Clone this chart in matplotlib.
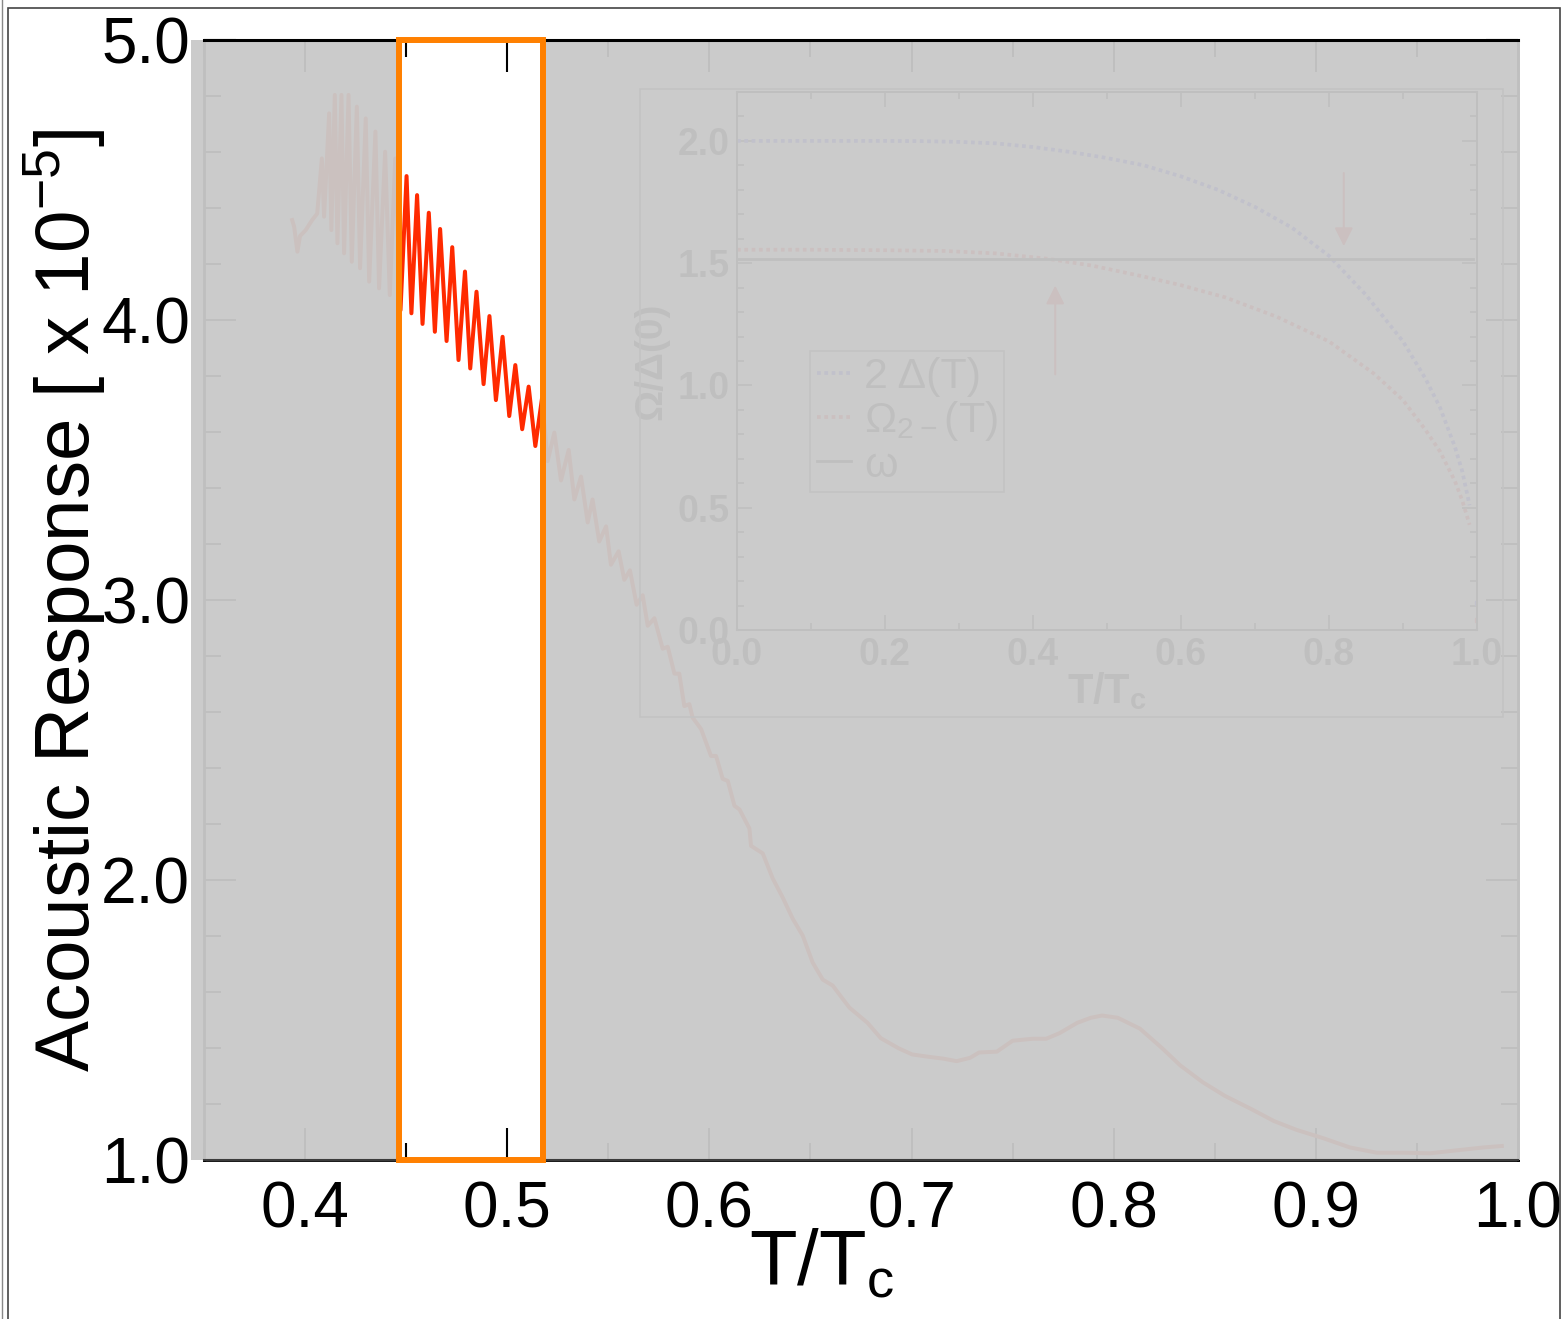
import numpy as np
import matplotlib.pyplot as plt
from matplotlib.patches import Rectangle
from matplotlib.lines import Line2D

plt.rcParams['font.family'] = ['Liberation Sans', 'DejaVu Sans']

# acoustic response (x 1e-5) vs reduced temperature
t_meas = [0.3936, 0.3946, 0.3962, 0.3975, 0.4003, 0.4035, 0.4060,
          0.4083, 0.4094, 0.4119, 0.4130, 0.4147, 0.4160, 0.4180, 0.4193,
          0.4215, 0.4231, 0.4256, 0.4272, 0.4300, 0.4317, 0.4348, 0.4366,
          0.4396, 0.4419, 0.4446, 0.4472,
          0.4502, 0.4526, 0.4554, 0.4581, 0.4612, 0.4642, 0.4668, 0.4700,
          0.4728, 0.4759, 0.4791, 0.4817, 0.4848, 0.4883, 0.4912, 0.4944,
          0.4977, 0.5010, 0.5040, 0.5074, 0.5106, 0.5139, 0.5172,
          0.5200, 0.5233, 0.5266, 0.5304, 0.5332, 0.5365, 0.5398, 0.5422,
          0.5455, 0.5489, 0.5513, 0.5551, 0.5579, 0.5607, 0.5640, 0.5670,
          0.5695, 0.5728, 0.5769, 0.5794, 0.5827, 0.5851, 0.5876, 0.5901,
          0.5917, 0.5959, 0.6008, 0.6033, 0.6066, 0.6091, 0.6124, 0.6149,
          0.6198, 0.6206, 0.6264, 0.6313, 0.6363, 0.6412, 0.6462, 0.6511,
          0.6561, 0.6610, 0.6660, 0.6693, 0.6782, 0.6848, 0.6936, 0.7003,
          0.7080, 0.7157, 0.7223, 0.7290, 0.7334, 0.7422, 0.7500, 0.7599,
          0.7666, 0.7732, 0.7820, 0.7887, 0.7942, 0.8020, 0.8130, 0.8240,
          0.8329, 0.8440, 0.8550, 0.8683, 0.8793, 0.8903, 0.9036, 0.9168,
          0.9301, 0.9434, 0.9566, 0.9677, 0.9831, 0.9920]
resp = [4.357, 4.333, 4.244, 4.300, 4.321, 4.357, 4.380,
        4.577, 4.369, 4.738, 4.321, 4.804, 4.274, 4.804, 4.238,
        4.804, 4.208, 4.762, 4.185, 4.720, 4.137, 4.673, 4.113,
        4.601, 4.089, 4.577, 4.035,
        4.514, 4.024, 4.446, 3.986, 4.383, 3.958, 4.325, 3.925,
        4.260, 3.857, 4.173, 3.827, 4.101, 3.771, 4.014, 3.714,
        3.940, 3.657, 3.839, 3.610, 3.762, 3.550, 3.720,
        3.496, 3.598, 3.427, 3.536, 3.359, 3.441, 3.277, 3.359,
        3.209, 3.263, 3.126, 3.174, 3.072, 3.106, 2.983, 3.017,
        2.908, 2.935, 2.826, 2.833, 2.737, 2.737, 2.621, 2.628,
        2.580, 2.539, 2.443, 2.443, 2.361, 2.354, 2.265, 2.252,
        2.184, 2.122, 2.095, 2.006, 1.937, 1.862, 1.801, 1.705,
        1.644, 1.623, 1.575, 1.544, 1.490, 1.435, 1.399, 1.377,
        1.369, 1.362, 1.353, 1.365, 1.384, 1.387, 1.426, 1.433,
        1.433, 1.453, 1.490, 1.508, 1.516, 1.508, 1.469, 1.399,
        1.338, 1.278, 1.229, 1.181, 1.139, 1.108, 1.078, 1.045,
        1.026, 1.026, 1.024, 1.033, 1.045, 1.050]

xticks = [0.4, 0.5, 0.6, 0.7, 0.8, 0.9, 1.0]
xticklabels = ['0.4', '0.5', '0.6', '0.7', '0.8', '0.9', '1.0']
yticks = [1, 2, 3, 4, 5]
yticklabels = ['1.0', '2.0', '3.0', '4.0', '5.0']

# inset: 2*gap and the collective mode, both over Delta(0)
t_gap = [0.0, 0.1, 0.2, 0.25, 0.3, 0.35, 0.4, 0.45, 0.5, 0.55, 0.6, 0.65,
         0.7, 0.75, 0.8, 0.85, 0.9, 0.93, 0.95, 0.97, 0.98, 0.99]
gap2 = [2.0, 2.0, 2.0, 1.999, 1.996, 1.99, 1.975, 1.955, 1.93, 1.90, 1.855,
        1.80, 1.73, 1.645, 1.53, 1.37, 1.18, 1.03, 0.91, 0.75, 0.65, 0.51]
t_mode = [0.0, 0.1, 0.2, 0.28, 0.35, 0.42, 0.48, 0.55, 0.6, 0.66, 0.73,
          0.8, 0.86, 0.9, 0.93, 0.95, 0.97, 0.98, 0.99]
omega2m = [1.555, 1.555, 1.553, 1.55, 1.54, 1.518, 1.49, 1.445, 1.41, 1.36,
           1.28, 1.18, 1.05, 0.94, 0.82, 0.73, 0.61, 0.53, 0.43]
t_omega = [0.0, 0.995]
omega_drive = [1.517, 1.517]
t_end = [1.0]
gap2_end = [0.11]
omega2m_end = [0.04]
inset_xticks = [0.0, 0.2, 0.4, 0.6, 0.8, 1.0]
inset_yticks = [0.0, 0.5, 1.0, 1.5, 2.0]

win_lo, win_hi = 0.4465, 0.5178   # highlighted temperature window

W, H = 1563, 1319
fig = plt.figure(figsize=(W / 100, H / 100), dpi=100)

ax = fig.add_axes([204 / W, 1 - 1160 / H, 1314 / W, 1120 / H])
ax.plot(t_meas, resp, color='#ff2a00', lw=2.9, solid_joinstyle='round')
ax.set_xlim(0.35, 1.0)
ax.set_ylim(1.0, 5.0)
ax.set_xticks(xticks)
ax.set_xticklabels(xticklabels)
ax.set_xticks(np.arange(0.35, 1.001, 0.05), minor=True)
ax.set_yticks(yticks)
ax.set_yticklabels(yticklabels)
ax.set_yticks(np.arange(1.0, 5.001, 0.2), minor=True)
ax.tick_params(which='both', direction='in', top=True, right=True,
               width=1.5, color='black')
ax.tick_params(which='major', length=23, labelsize=46)
ax.tick_params(which='minor', length=12)
ax.tick_params(axis='x', pad=15)
ax.tick_params(axis='y', pad=10)
for s in ax.spines.values():
    s.set_linewidth(2)
ax.set_xlabel(r'$\mathregular{T/T_c}$', fontsize=56)
ax.xaxis.set_label_coords(0.470, -0.0600)
ax.set_ylabel(r'Acoustic Response [ x 10$^{\mathregular{-5}}$]', fontsize=55)
ax.yaxis.set_label_coords(-0.0725, 0.5)

# frame around the inset figure
fig.add_artist(Rectangle((640 / W, 1 - 717 / H), 863 / W, 628 / H,
                         transform=fig.transFigure, fill=False,
                         ec='#404040', lw=1.2, zorder=1))

axi = fig.add_axes([737 / W, 1 - 630 / H, 740 / W, 538 / H])
axi.plot(t_gap, gap2, ls=(0, (1, 0.95)), color='#2020ff', lw=2.7,
         label='2 Δ(T)')
axi.plot(t_mode, omega2m, ls=(0, (1, 0.95)), color='#ff1010', lw=2.7,
         label=r'Ω$_{\mathregular{2-}}$(T)')
axi.plot(t_omega, omega_drive, color='black', lw=2, label='ω')
axi.plot(t_end, gap2_end, 's', color='#2020ff', ms=3.5)
axi.plot(t_end, omega2m_end, 's', color='#ff1010', ms=3.5)
axi.annotate('', xy=(0.82, 1.558), xytext=(0.82, 1.88),
             arrowprops=dict(arrowstyle='-|>', color='#ff1010', lw=1.5,
                             mutation_scale=28))
axi.annotate('', xy=(0.43, 1.42), xytext=(0.43, 1.034),
             arrowprops=dict(arrowstyle='-|>', color='#ff1010', lw=1.5,
                             mutation_scale=28))
axi.set_xlim(0.0, 1.0)
axi.set_ylim(0.0, 2.2)
axi.set_xticks(inset_xticks)
axi.set_xticklabels(['%.1f' % v for v in inset_xticks])
axi.set_xticks(np.arange(0.0, 1.001, 0.1), minor=True)
axi.set_yticks(inset_yticks)
axi.set_yticklabels(['%.1f' % v for v in inset_yticks])
axi.set_yticks(np.arange(0.0, 2.201, 0.1), minor=True)
axi.tick_params(which='both', direction='in', top=True, right=True, width=1.2)
axi.tick_params(which='major', length=11, labelsize=27, pad=5)
axi.tick_params(which='minor', length=5)
for lab in axi.get_xticklabels() + axi.get_yticklabels():
    lab.set_fontweight('bold')
for s in axi.spines.values():
    s.set_linewidth(1.5)
axi.set_xlabel(r'T/T$_\mathregular{c}$', fontsize=30, fontweight='bold')
axi.set_ylabel('Ω/Δ(0)', fontsize=28, fontweight='bold')
axi.xaxis.set_label_coords(0.5, -0.075)
axi.yaxis.set_label_coords(-0.092, 0.5)
leg = axi.legend(loc='lower left', bbox_to_anchor=(0.099, 0.2565),
                 fontsize=31, handlelength=0.8, handletextpad=0.3,
                 labelspacing=0.05, borderpad=0.15, borderaxespad=0,
                 fancybox=False, framealpha=1)
leg.get_frame().set_edgecolor('#505050')
leg.get_frame().set_linewidth(1.2)

# grey veil over everything outside the highlighted window
veil = dict(facecolor=(0.79, 0.79, 0.79), alpha=0.955, edgecolor='none',
            transform=ax.transData, zorder=5)
fig.add_artist(Rectangle((0.3438, 1.0), win_lo - 0.3438, 4.0, **veil))
fig.add_artist(Rectangle((win_hi, 1.0), 1.001 - win_hi, 4.0, **veil))
fig.add_artist(Line2D([0.35, 1.0], [5.0, 5.0], transform=ax.transData,
                      color='black', lw=2.2, zorder=6))
fig.add_artist(Line2D([0.35, 1.0], [1.0, 1.0], transform=ax.transData,
                      color='#3c3c3c', lw=1.5, zorder=6))
fig.add_artist(Rectangle((win_lo, 1.0), win_hi - win_lo, 4.0, fill=False,
                         ec='#ff8000', lw=4.3, transform=ax.transData,
                         zorder=7))

# outer border lines
fig.add_artist(Rectangle((8 / W, -0.01), 1552 / W, 1.01 - 8 / H,
                         transform=fig.transFigure, fill=False,
                         ec='#444444', lw=1.2, zorder=8))
fig.add_artist(Line2D([1.5 / W, 1.5 / W], [0, 1], transform=fig.transFigure,
                      color='#888888', lw=1, zorder=8))

fig.savefig('out.png', dpi=100)
